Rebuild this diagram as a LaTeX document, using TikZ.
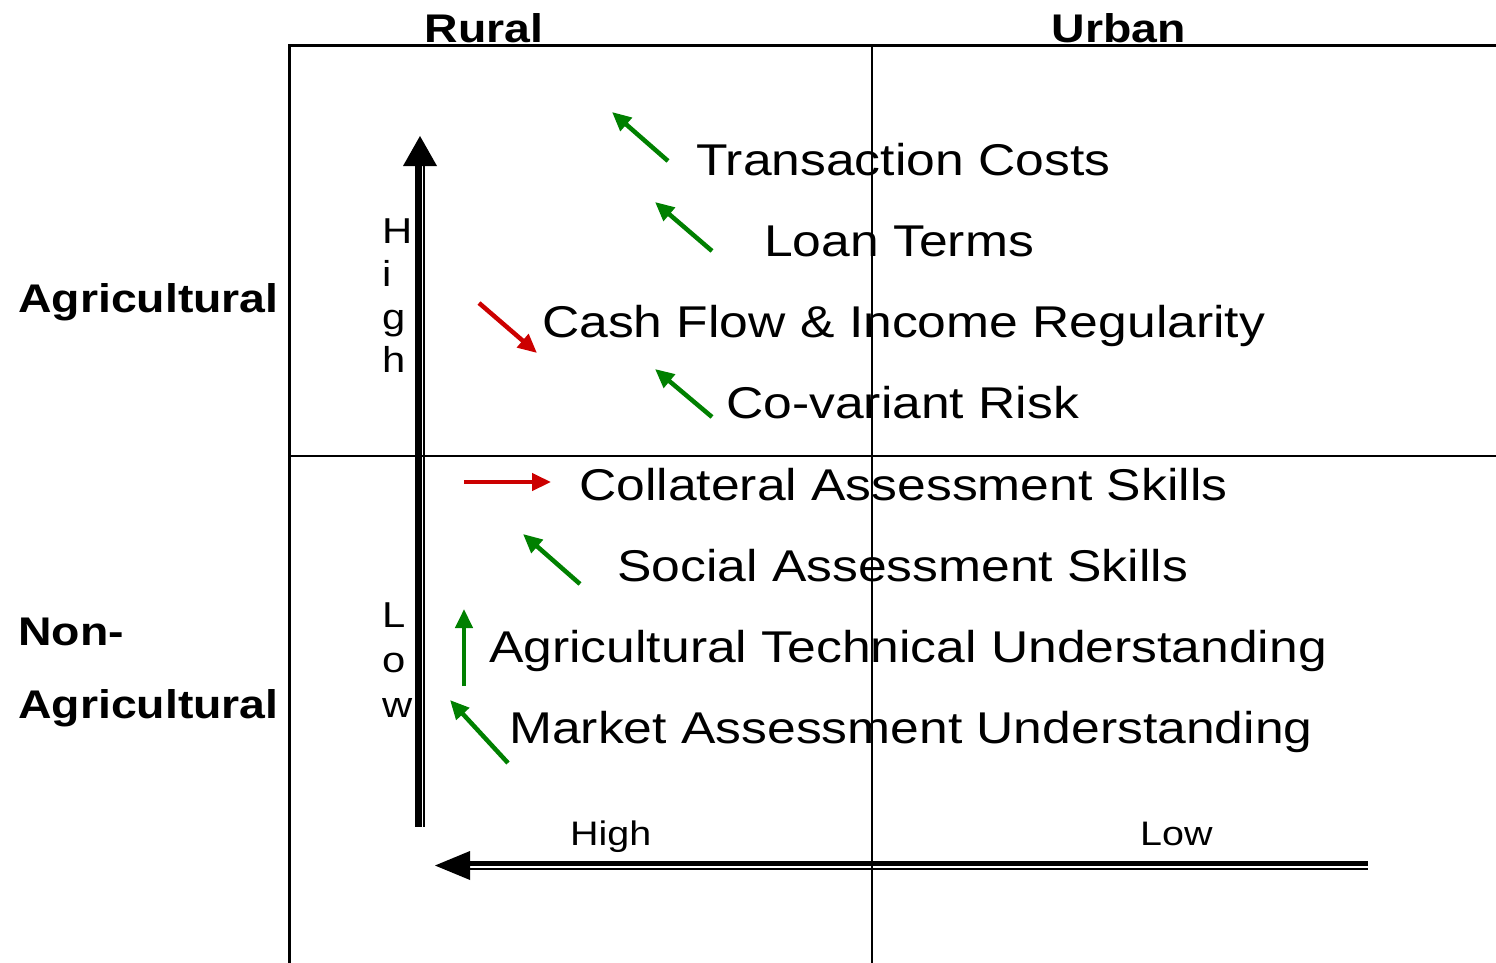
\documentclass[tikz,border=0pt]{standalone}
\usepackage{fontspec}
\setmainfont{Liberation Sans}[FakeStretch=1.16]
\usetikzlibrary{arrows.meta}
\definecolor{upgreen}{RGB}{0,128,0}
\definecolor{downred}{RGB}{204,0,0}

\begin{document}
\begin{tikzpicture}[x=1pt,y=-1pt,
  factor/.style={font=\fontsize{44.5}{52}\selectfont, anchor=base west, inner sep=0pt},
  heading/.style={font=\fontsize{40}{48}\selectfont\bfseries, inner sep=0pt},
  axislabel/.style={font=\fontsize{34}{40}\selectfont, anchor=base west, inner sep=0pt},
  stacked/.style={font=\fontsize{36}{43}\selectfont, anchor=base west, inner sep=0pt},
  trend/.style={line width=4.5pt, -{Triangle[length=19pt,width=17pt]}},
  up/.style={trend, upgreen},
  down/.style={trend, downred},
  frameline/.style={line width=3pt, line join=miter},
  gridline/.style={line width=1.3pt},
]
\useasboundingbox (0,0) rectangle (1496,963);

% quadrant frame
\coordinate (fbl) at (289,963);
\coordinate (ftl) at (289,46);
\coordinate (ftr) at (1496,46);
\coordinate (mtop) at (872,46);
\coordinate (mbot) at (872,963);
\coordinate (hl) at (289,456);
\coordinate (hr) at (1496,456);
\draw[frameline] (fbl) -- (ftl) -- (ftr);
\draw[gridline] (mtop) -- (mbot);
\draw[gridline] (hl) -- (hr);

% column and row headings
\node[heading, anchor=base] (rural) at (484,43) {Rural};
\node[heading, anchor=base] (urban) at (1119,43) {Urban};
\node[heading, anchor=base west] (agri) at (18,312) {Agricultural};
\node[heading, anchor=base west] (non) at (18,645) {Non-};
\node[heading, anchor=base west] (nonagri) at (18,718) {Agricultural};

% vertical axis: double shaft with solid head
\coordinate (vtip) at (420,136);
\coordinate (vbl) at (403,166);
\coordinate (vbr) at (437,166);
\coordinate (vthicktop) at (418.3,166);
\coordinate (vthickbot) at (418.3,827);
\coordinate (vthintop) at (424.2,166);
\coordinate (vthinbot) at (424.2,827);
\fill (vtip) -- (vbr) -- (vbl) -- cycle;
\draw[line width=6.5pt] (vthicktop) -- (vthickbot);
\draw[line width=1.7pt] (vthintop) -- (vthinbot);

% horizontal axis: double shaft with solid head
\coordinate (htip) at (435,865.5);
\coordinate (htop) at (470,851);
\coordinate (hbot) at (470,880);
\coordinate (hthickl) at (470,863.5);
\coordinate (hthickr) at (1368,863.5);
\coordinate (hthinl) at (470,869.2);
\coordinate (hthinr) at (1368,869.2);
\fill (htip) -- (htop) -- (hbot) -- cycle;
\draw[line width=5pt] (hthickl) -- (hthickr);
\draw[line width=1.7pt] (hthinl) -- (hthinr);

% axis labels
\foreach \ch [count=\k] in {H,i,g,h}
  \node[stacked] (high\k) at (382,243+43.3*\k-43.3) {\ch};
\foreach \ch [count=\k] in {L,o,w}
  \node[stacked] (low\k) at (382,627+45*\k-45) {\ch};
\node[axislabel] (xhigh) at (570,845) {High};
\node[axislabel] (xlow) at (1140,845) {Low};

% factors
\node[factor] (tc)  at (696,175.5) {Transaction Costs};
\node[factor] (lt)  at (764,256.5) {Loan Terms};
\node[factor] (cf)  at (542,337.5) {Cash Flow \& Income Regularity};
\node[factor] (cr)  at (726,418.5) {Co-variant Risk};
\node[factor] (ca)  at (579,500) {Collateral Assessment Skills};
\node[factor] (sa)  at (617,581) {Social Assessment Skills};
\node[factor] (at)  at (489,662) {Agricultural Technical Understanding};
\node[factor] (ma)  at (509,743) {Market Assessment Understanding};

% trend arrows
\coordinate (tc0) at (668,161);  \coordinate (tc1) at (612,112);
\coordinate (lt0) at (712,251);  \coordinate (lt1) at (655,202);
\coordinate (cf0) at (479,303);  \coordinate (cf1) at (537,353);
\coordinate (cr0) at (712,417);  \coordinate (cr1) at (655,369);
\coordinate (ca0) at (464,482);  \coordinate (ca1) at (551,482);
\coordinate (sa0) at (580,584);  \coordinate (sa1) at (523,534);
\coordinate (at0) at (464,686);  \coordinate (at1) at (464,609);
\coordinate (ma0) at (508,763);  \coordinate (ma1) at (450,700);
\draw[up]   (tc0) -- (tc1);
\draw[up]   (lt0) -- (lt1);
\draw[down] (cf0) -- (cf1);
\draw[up]   (cr0) -- (cr1);
\draw[down] (ca0) -- (ca1);
\draw[up]   (sa0) -- (sa1);
\draw[up]   (at0) -- (at1);
\draw[up]   (ma0) -- (ma1);
\end{tikzpicture}
\end{document}
